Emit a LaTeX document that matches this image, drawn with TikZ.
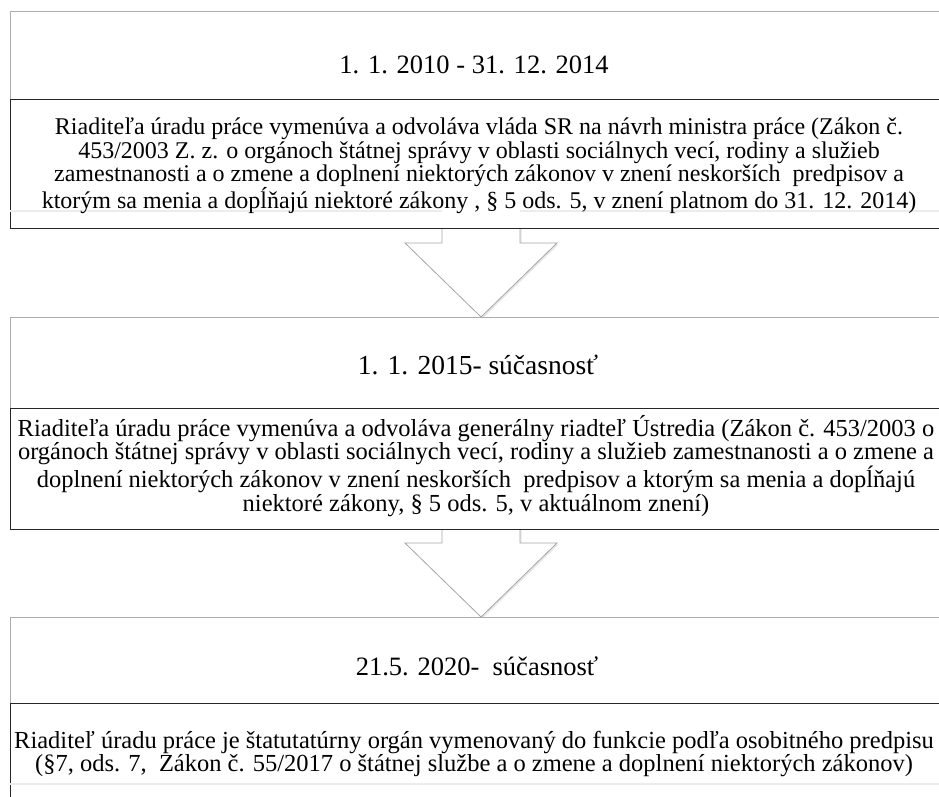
\documentclass[tikz,border=0pt]{standalone}
\usepackage{fontspec}
\setmainfont{Liberation Serif}
\usetikzlibrary{calc,shadows}
\begin{document}
\begin{tikzpicture}[x=1pt,y=-1pt,
  hdr/.style={draw=gray!65,line width=0.8pt,fill=white,minimum width=933pt,inner sep=0pt,anchor=north west},
  bodybox/.style={draw=black!85,line width=1.3pt,fill=white,minimum width=933pt,inner sep=0pt,anchor=north west},
  hdrtxt/.style={font=\fontsize{26.5}{28}\selectfont,align=center,inner sep=0pt,anchor=base},
  txt/.style={font=\fontsize{24.5}{23.5}\selectfont,align=center,inner sep=0pt},
  faint/.style={draw=gray!15,line width=1.2pt},
  blockarrow/.style={draw=gray!70,line width=0.8pt,fill=white,line join=miter,
     drop shadow={opacity=0.2,shadow xshift=1.5pt,shadow yshift=-1.5pt}}]
\useasboundingbox (0,0) rectangle (939,796);
\clip (0,0) rectangle (939,796);
\newcommand\myblockarrow[2]{%
 \draw[blockarrow] ($(#1)+(-39,0)$) -- ($(#2)+(-39,-74)$) -- ($(#2)+(-76,-74)$) -- (#2)
   -- ($(#2)+(76,-74)$) -- ($(#2)+(39,-74)$) -- ($(#1)+(39,0)$) -- cycle;}
% arrows
\coordinate (a1top) at (481,212);
\coordinate (a1tip) at (481,317);
\coordinate (a2top) at (481,512);
\coordinate (a2tip) at (481,617);
\myblockarrow{a1top}{a1tip}
\myblockarrow{a2top}{a2tip}
% box 1
\node[hdr,minimum height=88pt] (h1) at (10,11) {};
\node[bodybox,minimum height=129pt] (b1) at (10,99) {};
% box 2
\node[hdr,minimum height=91pt] (h2) at (10,317) {};
\node[bodybox,minimum height=121pt] (b2) at (10,408) {};
% box 3
\node[hdr,minimum height=86pt] (h3) at (10,617) {};
\node[bodybox,minimum height=112pt] (b3) at (10,703) {};
% faint bands
\draw[faint] (b1.west |- 0,211) -- (442,211);
\draw[faint] (520,211) -- (b1.east |- 0,211);
\draw[faint] (b3.west |- 0,784) -- (b3.east |- 0,784);
% texts
\node[hdrtxt] (t1) at (474,73) {1. 1. 2010 - 31. 12. 2014};
\node[txt,font=\fontsize{24}{23.5}\selectfont] (t1b) at (479,166) {Riaditeľa úradu práce vymenúva a odvoláva vláda SR na návrh ministra práce (Zákon č.\\
453/2003 Z. z. o orgánoch štátnej správy v oblasti sociálnych vecí, rodiny a služieb\\
zamestnanosti a o zmene a doplnení niektorých zákonov v znení neskorších\ \ predpisov a\\
ktorým sa menia a dopĺňajú niektoré zákony , § 5 ods. 5, v znení platnom do 31. 12. 2014)};
\node[hdrtxt,font=\fontsize{27.5}{28}\selectfont] (t2) at (478,374) {1. 1. 2015- súčasnosť};
\node[txt] (t2b) at (476,466) {Riaditeľa úradu práce vymenúva a odvoláva generálny riadteľ Ústredia (Zákon č. 453/2003 o\\
orgánoch štátnej správy v oblasti sociálnych vecí, rodiny a služieb zamestnanosti a o zmene a\\
doplnení niektorých zákonov v znení neskorších\ \ predpisov a ktorým sa menia a dopĺňajú\\
niektoré zákony, § 5 ods. 5, v aktuálnom znení)};
\node[hdrtxt] (t3) at (477,675) {21.5. 2020-\ \ súčasnosť};
\node[txt] (t3b) at (474,754) {Riaditeľ úradu práce je štatutatúrny orgán vymenovaný do funkcie podľa osobitného predpisu\\
(§7, ods. 7,\ \ Zákon č. 55/2017 o štátnej službe a o zmene a doplnení niektorých zákonov)};
\end{tikzpicture}
\end{document}
